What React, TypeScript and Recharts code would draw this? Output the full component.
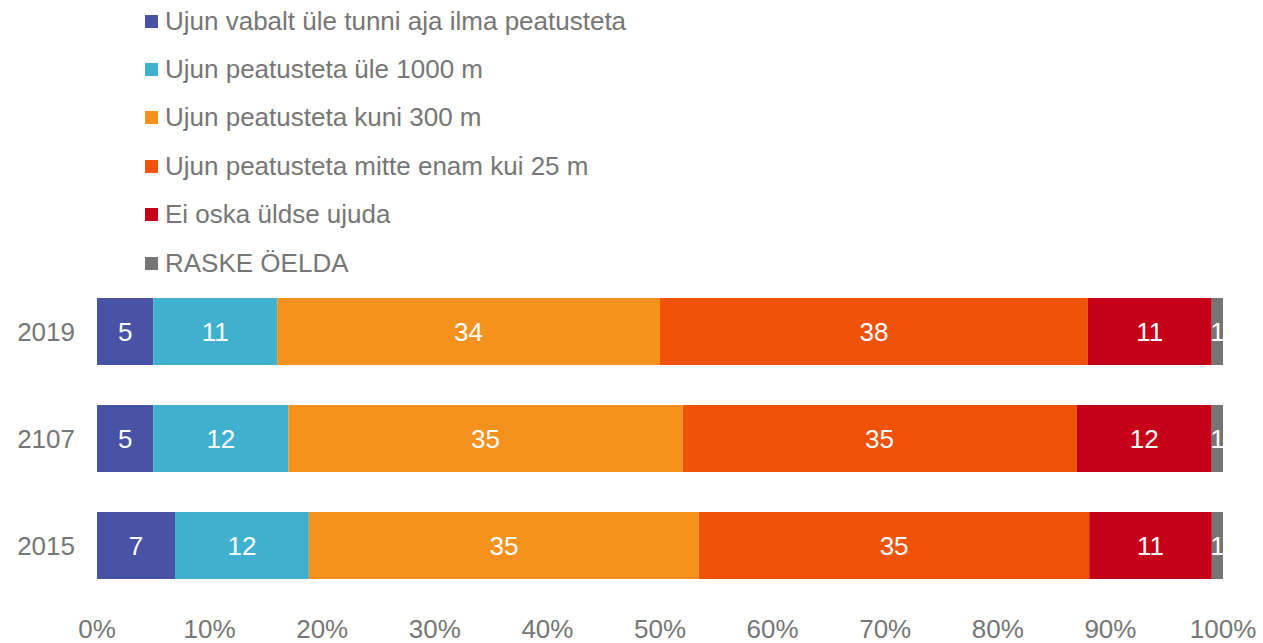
import { BarChart, Bar, XAxis, YAxis, Legend, LabelList } from 'recharts';

const years = ['2019', '2107', '2015'];
const vabalt = [5, 5, 7];
const ule1000 = [11, 12, 12];
const kuni300 = [34, 35, 35];
const kuni25 = [38, 35, 35];
const eiOska = [11, 12, 11];
const raske = [1, 1, 1];

const seriesNames = [
  'Ujun vabalt üle tunni aja ilma peatusteta',
  'Ujun peatusteta üle 1000 m',
  'Ujun peatusteta kuni 300 m',
  'Ujun peatusteta mitte enam kui 25 m',
  'Ei oska üldse ujuda',
  'RASKE ÖELDA',
];
const seriesKeys = ['vabalt', 'ule1000', 'kuni300', 'kuni25', 'eiOska', 'raske'];
const seriesColors = ['#4853A5', '#3FB0CD', '#F5911E', '#F05207', '#C7001A', '#757575'];
const xTicks = [0, 0.1, 0.2, 0.3, 0.4, 0.5, 0.6, 0.7, 0.8, 0.9, 1];

const data = years.map((year, i) => ({
  year,
  vabalt: vabalt[i],
  ule1000: ule1000[i],
  kuni300: kuni300[i],
  kuni25: kuni25[i],
  eiOska: eiOska[i],
  raske: raske[i],
}));

const FONT = '"Liberation Sans", Arial, sans-serif';
const GRAY = '#767676';
const FS = 26;

function LegendList() {
  return (
    <div style={{ fontFamily: FONT, fontSize: FS, color: GRAY }}>
      {seriesNames.map((name, i) => (
        <div
          key={name}
          style={{ height: 48.4, display: 'flex', alignItems: 'center', whiteSpace: 'nowrap' }}
        >
          <span
            style={{
              display: 'inline-block',
              width: 13,
              height: 13,
              background: seriesColors[i],
              marginRight: 7,
            }}
          />
          {name}
        </div>
      ))}
    </div>
  );
}

export default function App() {
  return (
    <div style={{ position: 'absolute', left: 0, top: 0, background: '#fff' }}>
      <BarChart
        width={1263}
        height={643}
        data={data}
        layout="vertical"
        stackOffset="expand"
        margin={{ top: 278, right: 40, bottom: 0, left: 0 }}
      >
        <XAxis
          type="number"
          domain={[0, 1]}
          ticks={xTicks}
          tickFormatter={(v: number) => `${Math.round(v * 100)}%`}
          axisLine={false}
          tickLine={false}
          tickSize={0}
          tickMargin={21}
          height={44}
          interval={0}
          tick={{ fill: GRAY, fontSize: FS, fontFamily: FONT }}
        />
        <YAxis
          type="category"
          dataKey="year"
          width={97}
          axisLine={false}
          tickLine={false}
          tickSize={0}
          tickMargin={22}
          tick={{ fill: GRAY, fontSize: FS, fontFamily: FONT }}
        />
        <Legend
          layout="vertical"
          align="center"
          verticalAlign="middle"
          wrapperStyle={{ top: -3, left: 145 }}
          content={() => <LegendList />}
        />
        {seriesKeys.map((key, i) => (
          <Bar
            key={key}
            dataKey={key}
            name={seriesNames[i]}
            stackId="a"
            fill={seriesColors[i]}
            barSize={67}
            isAnimationActive={false}
          >
            <LabelList
              dataKey={key}
              position="center"
              fill="#ffffff"
              style={{ fontSize: FS, fontFamily: FONT }}
            />
          </Bar>
        ))}
      </BarChart>
    </div>
  );
}
